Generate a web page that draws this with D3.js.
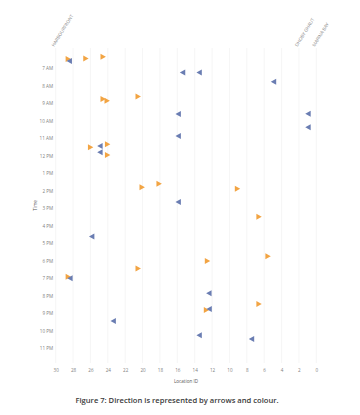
<!DOCTYPE html>
<html>
<head>
<meta charset="utf-8">
<script src="https://cdn.jsdelivr.net/npm/d3@7"></script>
<style>
  html, body { margin: 0; padding: 0; background: #fff; }
  svg { display: block; }
</style>
</head>
<body>
<svg id="chart" width="360" height="415"></svg>
<script>
// ---- data ----
const directions = ["right", "left"];           // right = orange, left = blue
const dirColors = ["#f2a443", "#6a7db2"];

const trips = [
  { loc: 28.55, time: "06:28", dir: "right" },
  { loc: 28.44, time: "06:35", dir: "left" },
  { loc: 26.52, time: "06:26", dir: "right" },
  { loc: 24.53, time: "06:20", dir: "right" },
  { loc: 15.40, time: "07:14", dir: "left" },
  { loc: 13.49, time: "07:14", dir: "left" },
  { loc: 4.93,  time: "07:46", dir: "left" },
  { loc: 24.53, time: "08:45", dir: "right" },
  { loc: 24.07, time: "08:51", dir: "right" },
  { loc: 20.50, time: "08:37", dir: "right" },
  { loc: 15.90, time: "09:37", dir: "left" },
  { loc: 0.96,  time: "09:36", dir: "left" },
  { loc: 0.96,  time: "10:22", dir: "left" },
  { loc: 15.90, time: "10:52", dir: "left" },
  { loc: 25.98, time: "11:31", dir: "right" },
  { loc: 24.91, time: "11:26", dir: "left" },
  { loc: 24.02, time: "11:20", dir: "right" },
  { loc: 24.91, time: "11:48", dir: "left" },
  { loc: 24.02, time: "11:57", dir: "right" },
  { loc: 20.04, time: "13:48", dir: "right" },
  { loc: 18.09, time: "13:36", dir: "right" },
  { loc: 9.07,  time: "13:53", dir: "right" },
  { loc: 15.90, time: "14:38", dir: "left" },
  { loc: 6.59,  time: "15:29", dir: "right" },
  { loc: 25.86, time: "16:37", dir: "left" },
  { loc: 5.55,  time: "17:44", dir: "right" },
  { loc: 12.52, time: "18:01", dir: "right" },
  { loc: 20.50, time: "18:26", dir: "right" },
  { loc: 28.55, time: "18:55", dir: "right" },
  { loc: 28.36, time: "19:00", dir: "left" },
  { loc: 12.37, time: "19:51", dir: "left" },
  { loc: 6.59,  time: "20:28", dir: "right" },
  { loc: 12.64, time: "20:49", dir: "right" },
  { loc: 12.34, time: "20:45", dir: "left" },
  { loc: 23.38, time: "21:26", dir: "left" },
  { loc: 13.49, time: "22:15", dir: "left" },
  { loc: 7.46,  time: "22:28", dir: "left" }
];

const xTicks = [30, 28, 26, 24, 22, 20, 18, 16, 14, 12, 10, 8, 6, 4, 2, 0];
const yTickHours = [7, 8, 9, 10, 11, 12, 13, 14, 15, 16, 17, 18, 19, 20, 21, 22, 23];
const yTickLabels = ["7 AM", "8 AM", "9 AM", "10 AM", "11 AM", "12 PM", "1 PM", "2 PM",
  "3 PM", "4 PM", "5 PM", "6 PM", "7 PM", "8 PM", "9 PM", "10 PM", "11 PM"];
const stationLabels = [
  { loc: 30, name: "HARBOURFRONT" },
  { loc: 2, name: "DHOBY GHAUT" },
  { loc: 0, name: "MARINA BAY" }
];
const timeDomain = [5.84, 23.84];
const xTitle = "Location ID";
const yTitle = "Time";
const caption = "Figure 7: Direction is represented by arrows and colour.";

// ---- chart ----
(function () {
const svg = d3.select("#chart");
const font = "'Open Sans', 'Noto Sans', sans-serif";
const pLeft = 55.7, pRight = 316.3, pTop = 48, pBottom = 363;

const x = d3.scaleLinear().domain([30, 0]).range([pLeft, pRight]);
const y = d3.scaleLinear().domain(timeDomain).range([pTop, pBottom]);
const color = d3.scaleOrdinal().domain(directions).range(dirColors);
const toHour = t => { const [h, m] = t.split(":").map(Number); return h + m / 60; };

// vertical grid
svg.append("g").selectAll("line").data(xTicks).join("line")
  .attr("x1", d => x(d)).attr("x2", d => x(d))
  .attr("y1", pTop).attr("y2", pBottom)
  .attr("stroke", "#f1f1f1").attr("stroke-width", 0.7);

// x axis
const gx = svg.append("g").attr("transform", `translate(0,${pBottom + 6})`)
  .call(d3.axisBottom(x).tickValues(xTicks).tickSize(0).tickPadding(0).tickFormat(d3.format("d")));
gx.select(".domain").remove();
gx.selectAll("text").attr("font-family", font).attr("font-size", 4.6).attr("fill", "#808080");

// y axis
const yLab = new Map(yTickHours.map((h, i) => [h, yTickLabels[i]]));
const gy = svg.append("g").attr("transform", `translate(${pLeft},0)`)
  .call(d3.axisLeft(y).tickValues(yTickHours).tickSize(0).tickPadding(2.6).tickFormat(h => yLab.get(h)));
gy.select(".domain").remove();
gy.selectAll("text").attr("font-family", font).attr("font-size", 4.6).attr("fill", "#808080");

// axis titles
svg.append("text").attr("x", (pLeft + pRight) / 2).attr("y", 382.5)
  .attr("text-anchor", "middle").attr("font-family", font).attr("font-size", 4.6)
  .attr("fill", "#555").text(xTitle);
svg.append("text").attr("transform", `translate(36.5,${(pTop + pBottom) / 2}) rotate(-90)`)
  .attr("text-anchor", "middle").attr("font-family", font).attr("font-size", 4.6)
  .attr("fill", "#555").text(yTitle);

// station labels
svg.append("g").selectAll("text").data(stationLabels).join("text")
  .attr("transform", d => `translate(${x(d.loc) - 1.5},${pTop - 1}) rotate(-58)`)
  .attr("font-family", font).attr("font-size", 4.6).attr("fill", "#888")
  .text(d => d.name);

// markers
const w = 5.4, h = 6;
const tri = d => d === "right"
  ? `M${-w / 2},${-h / 2}L${w / 2},0L${-w / 2},${h / 2}Z`
  : `M${w / 2},${-h / 2}L${-w / 2},0L${w / 2},${h / 2}Z`;
const ordered = trips.filter(d => d.dir === "right").concat(trips.filter(d => d.dir === "left"));
svg.append("g").selectAll("path").data(ordered).join("path")
  .attr("transform", d => `translate(${x(d.loc)},${y(toHour(d.time))})`)
  .attr("d", d => tri(d.dir))
  .attr("fill", d => color(d.dir));

// caption
svg.append("text").attr("x", 177).attr("y", 402.5)
  .attr("text-anchor", "middle").attr("font-family", font).attr("font-size", 7.6)
  .attr("font-weight", 600).attr("fill", "#3a3a3a").text(caption);
})();
</script>
</body>
</html>
